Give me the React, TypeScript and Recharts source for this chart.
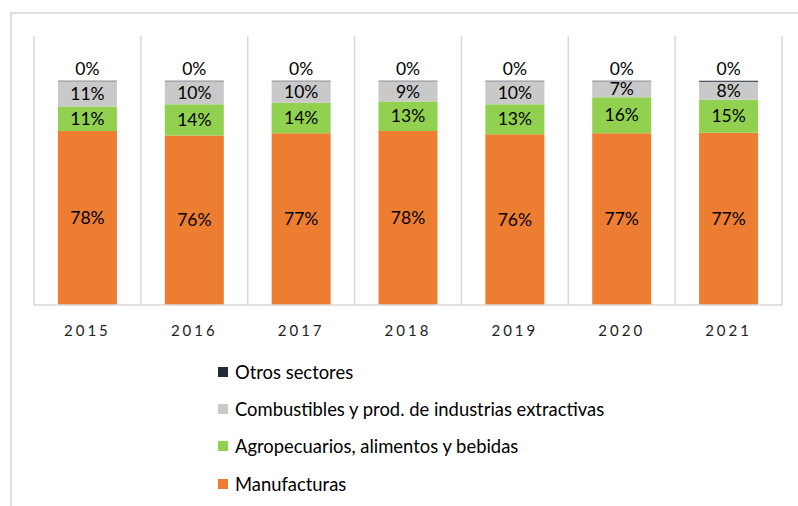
import { BarChart, Bar, XAxis, YAxis, CartesianGrid, LabelList } from "recharts";

const years = ["2015", "2016", "2017", "2018", "2019", "2020", "2021"];
const manufacturas = [77.6, 75.6, 76.6, 77.6, 76.2, 76.6, 76.8];
const agropecuarios = [11.0, 14.0, 13.6, 13.2, 13.3, 16.1, 14.8];
const combustibles = [11.2, 10.2, 9.6, 9.0, 10.3, 7.1, 8.0];
const otros = [0.2, 0.2, 0.2, 0.2, 0.2, 0.2, 0.4];

const series = [
  { key: "otros", name: "Otros sectores", color: "#222a35" },
  { key: "combustibles", name: "Combustibles y prod. de industrias extractivas", color: "#c9c9c9" },
  { key: "agropecuarios", name: "Agropecuarios, alimentos y bebidas", color: "#92d050" },
  { key: "manufacturas", name: "Manufacturas", color: "#ed7d31" },
];

const data = years.map((year, i) => ({
  year,
  manufacturas: manufacturas[i],
  agropecuarios: agropecuarios[i],
  combustibles: combustibles[i],
  otros: otros[i],
}));

const FONT = "Lato, 'Open Sans', sans-serif";
const pct = (v: any) => `${Math.round(Number(v))}%`;
const labelStyle = { fontSize: 17.5, fill: "#000", fontFamily: FONT };

// gridlines at category boundaries instead of centres
const boundaryLines = ({ offset }: any) =>
  years.map((_, i) => offset.left + (i * offset.width) / years.length).concat(offset.left + offset.width);

export default function App() {
  return (
    <div style={{ position: "absolute", left: 0, top: 0, width: 798, height: 506, background: "#fff", overflow: "hidden", fontFamily: FONT }}>
      <div style={{ position: "absolute", left: 10, top: 12, width: 800, height: 500, borderLeft: "2px solid #dedede", borderTop: "2px solid #dedede" }} />
      <div style={{ position: "absolute", left: 0, top: 0 }}>
        <BarChart width={798} height={345} data={data} margin={{ top: 36, right: 16, bottom: 10, left: 34 }} barCategoryGap="22.4%">
          <CartesianGrid horizontal={false} stroke="#d9d9d9" strokeWidth={1.5} verticalCoordinatesGenerator={boundaryLines} />
          <XAxis
            dataKey="year"
            height={30}
            axisLine={{ stroke: "#d9d9d9", strokeWidth: 1.5 }}
            tickLine={false}
            tickMargin={14}
            tick={{ fontSize: 15, fill: "#222", fontFamily: FONT, letterSpacing: 3 }}
          />
          <YAxis hide domain={[0, 120]} />
          <Bar dataKey="manufacturas" stackId="a" fill="#ed7d31" isAnimationActive={false}>
            <LabelList dataKey="manufacturas" position="center" formatter={pct} style={labelStyle} />
          </Bar>
          <Bar dataKey="agropecuarios" stackId="a" fill="#92d050" isAnimationActive={false}>
            <LabelList dataKey="agropecuarios" position="center" formatter={pct} style={labelStyle} />
          </Bar>
          <Bar dataKey="combustibles" stackId="a" fill="#c9c9c9" isAnimationActive={false}>
            <LabelList dataKey="combustibles" position="center" formatter={pct} style={labelStyle} />
          </Bar>
          <Bar dataKey="otros" stackId="a" fill="#222a35" isAnimationActive={false}>
            <LabelList dataKey="otros" position="top" offset={6} formatter={pct} style={labelStyle} />
          </Bar>
        </BarChart>
      </div>
      <div style={{ position: "absolute", left: 218, top: 353 }}>
        {series.map((s) => (
          <div key={s.key} style={{ display: "flex", alignItems: "center", height: 37.3, fontSize: 18.4, color: "#000" }}>
            <span style={{ display: "inline-block", width: 10, height: 10, background: s.color, marginRight: 7 }} />
            {s.name}
          </div>
        ))}
      </div>
    </div>
  );
}
